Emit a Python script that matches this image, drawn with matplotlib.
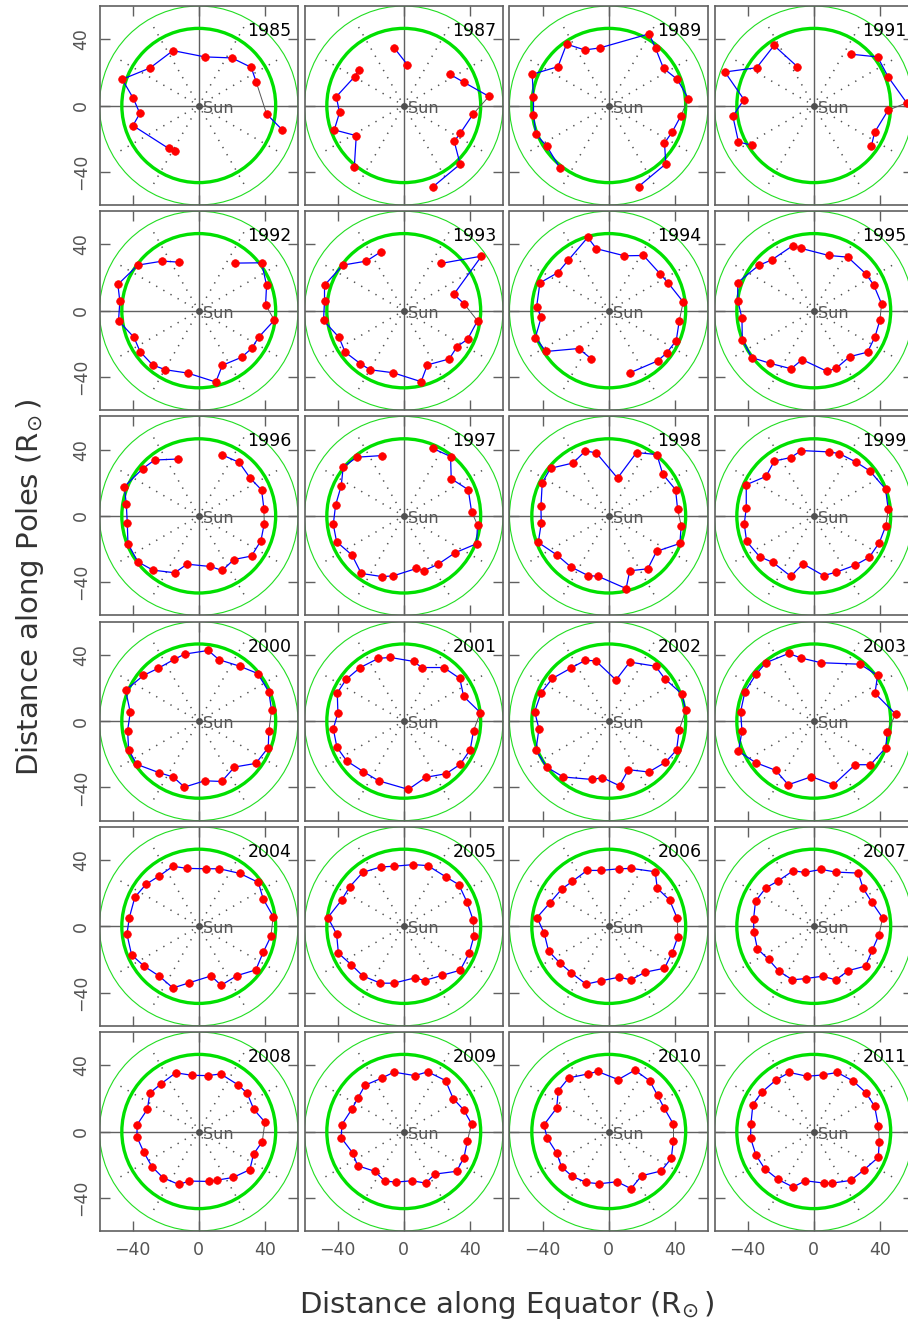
import numpy as np
import matplotlib
matplotlib.use('Agg')
import matplotlib.pyplot as plt
from matplotlib.patches import Circle

G = None  # gap in the sequence of position angles

YEARS = [1985, 1987, 1989, 1991,
         1992, 1993, 1994, 1995,
         1996, 1997, 1998, 1999,
         2000, 2001, 2002, 2003,
         2004, 2005, 2006, 2007,
         2008, 2009, 2010, 2011]

pts_1985 = [(41, -5.1), (50.3, -14.5), G, (-14.1, -27.7), (-18.2, -25.9), (-39.8, -12.1), (-35.6, -4.8),
            (-39.6, 4.4), (-46.3, 15.8), (-29.5, 22.6), (-15.6, 33.1), (3.8, 29.3), (20, 28.7), (31.7, 23), (34.7, 14.3)]
pts_1987 = [(42, -5.1), (34.1, -16.8), (30.5, -21.6), (34.1, -35.4), (17.8, -48.9), G, (-29.9, -37.2), (-28.7, -18.2),
            (-42, -14.7), (-38.8, -4.2), (-40.8, 5.3), (-29.7, 17.4), (-27.1, 21.6), G, (-5.9, 34.9), (2.2, 24.6), G,
            (27.9, 18.8), (36.2, 14.1), (51.5, 5.5)]
pts_1989 = [(43.6, -6.3), (38.2, -16.2), (33.7, -22.6), (34.5, -35.2), (18, -48.9), G, (-29.7, -37.4), (-37.4, -24.6),
            (-44, -17.4), (-45.5, -5.7), (-45.5, 5.3), (-46.3, 18.8), (-30.7, 23.4), (-25.5, 37), (-14.5, 33.5),
            (-5.5, 34.7), (24.4, 43.2), (28.3, 34.5), (33.1, 22.4), (41.4, 15.8), (48.1, 4.2)]
pts_1991 = [(45, -2.8), (36.8, -16.2), (34.9, -24.2), G, (-37.2, -24), (-45.5, -22), (-48.9, -6.5), (-42.2, 3.6),
            (-53.7, 20.2), (-34.5, 22.8), (-24, 36.2), (-9.9, 23.4), G, (22.8, 30.9), (38.6, 29.3), (45, 17.2), (56.2, 1.6)]
pts_1992 = [(45.7, -5.7), (36.2, -16), (32.1, -22.6), (25.9, -28.1), (14.3, -32.9), (10.3, -43), (-6.7, -37.6),
            (-20.2, -35.6), (-27.9, -32.7), (-35.4, -24.8), (-39.2, -16), (-48.5, -6.1), (-47.7, 5.7), (-48.9, 15.8),
            (-36.8, 27.5), (-22, 29.9), (-12.1, 29.3), G, (22.2, 28.7), (38, 28.9), (41, 15.4), (40.4, 3.6)]
pts_1993 = [(44.6, -6.1), (38.6, -17.2), (32.3, -21.6), (27.5, -29.1), (14.3, -32.7), (10.5, -42.8), (-6.5, -37.4),
            (-20.4, -35.6), (-26.3, -31.9), (-35.4, -25), (-39.2, -16), (-48.5, -5.9), (-47.9, 5.7), (-47.9, 15.4),
            (-36.8, 27.5), (-22.6, 29.9), (-14, 35.4), G, (22.4, 28.5), (47, 32.9), (30.3, 9.9), (36.6, 4)]
pts_1994 = [(42.6, -6.3), (40.8, -18), (35, -25.5), (29.5, -30.3), (12.9, -37.4), G, (-10.7, -28.9), (-18.2, -22.8),
            (-38, -24.6), (-44.4, -16.2), (-40.8, -4), (-43.6, 2.4), (-41.6, 16.8), (-30.7, 23), (-24.6, 30.3),
            (-12.7, 44.2), (-7.5, 37.4), (9.5, 33.1), (21, 33.3), (30.9, 22.4), (36, 16.6), (45, 5.3)]
pts_1995 = [(40, -5.7), (37, -15.8), (32.5, -25), (21.8, -27.7), (13.5, -34.7), (8.1, -36.6), (-7, -29.5),
            (-13.7, -35), (-26.5, -31.7), (-37.4, -28.3), (-43.2, -17.4), (-43.4, -4.4), (-45.9, 5.9), (-46, 17),
            (-33.3, 27.3), (-25.3, 30.7), (-12.7, 39.2), (-7.7, 37.6), (9.1, 33.3), (20.6, 32.3), (31.3, 22.4),
            (36.2, 15.6), (41, 4.2)]
pts_1996 = [(39.6, -4.6), (37.6, -14.9), (31.9, -24.2), (21.2, -26.3), (14.3, -32.9), (6.9, -30.5), (-7.1, -29.1),
            (-14.5, -34.3), (-27.7, -32.7), (-36.8, -27.7), (-42.8, -16.8), (-43.2, -4.4), (-43.8, 7.1), (-45, 17.6),
            (-33.9, 28.5), (-26.7, 33.7), (-12.5, 34.3), G, (14.1, 36.8), (24.4, 32.3), (31.1, 22.8), (38, 15.6),
            (39.4, 4.2)]
pts_1997 = [(44.6, -5.5), (44, -16.8), (31.1, -22.2), (20.8, -29.1), (12.1, -33.1), (7.7, -31.7), (-6.5, -36.2),
            (-13.1, -36.6), (-25.7, -34.7), (-31.3, -23.6), (-40.6, -15.6), (-42.6, -5.1), (-41.2, 6.5), (-37.8, 18.2),
            (-36.6, 29.5), (-28.3, 35.4), (-13.1, 36.4), G, (17.4, 40.8), (28.3, 35.8), (28.7, 22.4), (39, 15.8),
            (41, 2.6)]
pts_1998 = [(43.8, -5.9), (43, -16.6), (28.9, -21.4), (23.6, -31.9), (12.7, -33.1), (10.5, -43.8), (-6.5, -36.4),
            (-12.5, -36), (-23, -30.7), (-31.3, -23.6), (-42.6, -16), (-40.8, -4.4), (-41, 5.7), (-40.2, 20),
            (-35.2, 28.7), (-21.6, 31.9), (-14.1, 39.2), (-7.5, 38), (5.3, 22.8), (16.8, 38.2), (29.1, 37),
            (32.7, 25.1), (40.4, 15.8), (41.6, 4.2)]
pts_1999 = [(43.6, -5.9), (39.6, -16.2), (33.5, -25), (25.1, -29.7), (13.7, -33.9), (5.9, -36), (-6.5, -28.9),
            (-13.9, -36.4), (-24.6, -28.1), (-32.7, -24.6), (-40.6, -15.4), (-42, -4.8), (-40.8, 4.8), (-40.8, 18.8),
            (-28.9, 23.8), (-23.8, 33.1), (-13.9, 35.2), (-7.5, 39.4), (9.1, 38.6), (15.4, 37.6), (25.5, 32.5),
            (33.9, 27.1), (43.4, 16.2), (45, 4.2)]
pts_2000 = [(42.4, -5.7), (42, -16), (34.5, -25.5), (21.6, -27.7), (13.9, -36.4), (3.6, -36), (-8.7, -39.8),
            (-15.4, -33.7), (-24, -31.1), (-37.4, -26.1), (-42.4, -17.4), (-43, -5.7), (-41.4, 5.3), (-44.2, 18.6),
            (-33.5, 27.5), (-24.4, 31.9), (-14.9, 37.2), (-8.5, 40.4), (5.7, 42.6), (12.3, 37), (24.8, 33.1),
            (35.6, 28.7), (42.4, 17.6), (44, 6.5)]
pts_2001 = [(42.2, -5.7), (40.2, -17.2), (34.1, -26.1), (25.7, -31.7), (13.3, -33.9), (2.8, -41.2), (-15.2, -36),
            (-24.4, -30.5), (-34.5, -24), (-40.4, -15.8), (-42.6, -4.6), (-39.8, 4.8), (-40.2, 17), (-34.7, 25.3),
            (-26.3, 32.3), (-15.4, 37.8), (-8.3, 38.4), (5.9, 36), (10.9, 32.3), (24.2, 32.3), (33.9, 25.7),
            (36.2, 14.9), (46.3, 5.1)]
pts_2002 = [(42.6, -5.3), (41, -17.4), (34.3, -24.8), (24.2, -30.7), (11.9, -29.3), (6.5, -39), (-3.8, -34.1),
            (-9.9, -35.2), (-27.5, -33.7), (-37.6, -27.7), (-44, -17.4), (-42.2, -4.6), (-44.8, 5.7), (-40.8, 17.2),
            (-34.1, 25.7), (-23, 31.9), (-14.3, 36.6), (-7.9, 36.4), (4.4, 24.8), (12.7, 35.6), (28.3, 33.1),
            (33.9, 25.5), (44.2, 16.4), (46.5, 6.5)]
pts_2003 = [(44.4, -6.3), (43.6, -16), (34.3, -26.3), (25, -26.3), (11.9, -38.4), (-1.4, -33.5), (-15.4, -38.4),
            (-23, -29.7), (-35.2, -25), (-45.5, -18.2), (-43.4, -6.1), (-44.2, 5.7), (-41.6, 17.8), (-34.7, 28.5),
            (-28.9, 35.2), (-15.2, 40.8), (-7.5, 38), (4.4, 35.2), (28.1, 34.3), (38.6, 27.5), (37, 16.8),
            (49.5, 4.2)]
pts_2004 = [(43.6, -6.1), (39, -15.6), (34.5, -26.3), (23.2, -29.7), (13.5, -35.6), (7.5, -29.9), (-5.9, -34.1),
            (-15.6, -37.2), (-23.8, -30.1), (-33.1, -24), (-40.6, -17.2), (-43.4, -4.8), (-42, 5.1), (-38.6, 17.6),
            (-31.9, 25.3), (-24, 30.3), (-15.6, 36.2), (-6.9, 34.9), (4.2, 34.7), (12.5, 34.7), (24.8, 31.9),
            (36, 26.5), (39, 16.4), (45, 5.9)]
pts_2005 = [(42.4, -6.1), (39.6, -16.2), (34.1, -26.5), (23.4, -29.5), (12.7, -32.7), (6.7, -31.1), (-6.1, -34.3),
            (-14.1, -34.3), (-24.8, -29.9), (-31.7, -23.2), (-39.5, -16.2), (-40.6, -4.6), (-45.9, 5.3), (-37.6, 15.8),
            (-32.7, 23.8), (-24.8, 32.5), (-13.9, 35.8), (-6.1, 36.2), (5.7, 37.2), (14.5, 36.6), (25.3, 29.9),
            (33.3, 25.1), (38.2, 14.7), (42, 3.6)]
pts_2006 = [(41.8, -6.3), (38.4, -15.8), (33.7, -25.3), (21.8, -27.7), (13.5, -32.3), (6.1, -30.7), (-4.8, -32.9),
            (-13.7, -34.9), (-22.6, -28.1), (-29.7, -22), (-36.4, -14.9), (-39, -4.2), (-43.4, 5.3), (-35.6, 14.1),
            (-28.5, 22.4), (-22, 27.1), (-13.1, 33.7), (-4.4, 33.7), (6.3, 34.7), (13.7, 34.9), (28.1, 32.9),
            (29.3, 23), (36.8, 15.8), (41.4, 4.8)]
pts_2007 = [(39.4, -5.3), (35.4, -14.3), (31.3, -24), (21, -26.7), (13.3, -32.3), (5.3, -30.1), (-4.8, -31.5),
            (-12.9, -32.3), (-21, -27.1), (-27.3, -20), (-34.1, -13.5), (-36.2, -3.2), (-36.4, 4.2), (-35.2, 15.2),
            (-28.9, 23.2), (-21.6, 27.3), (-12.5, 33.5), (-5.5, 32.5), (4.6, 34.3), (13.3, 32.7), (26.9, 32.1),
            (29.9, 22.8), (35, 14.7), (41.6, 5.1)]
pts_2008 = [(38.4, -6.1), (33.1, -13.7), (30.9, -23), (20.8, -27.7), (11.3, -29.3), (5.9, -30.1), (-5.7, -29.9),
            (-12.1, -31.9), (-21.6, -27.9), (-28.3, -21.2), (-33.3, -12.3), (-37.4, -3.2), (-37.2, 4.2), (-31.1, 13.3),
            (-29.5, 23.2), (-22.6, 28.9), (-13.9, 35.4), (-4.2, 33.9), (5.3, 33.7), (13.3, 34.7), (23.8, 28.1),
            (29.3, 23), (33.3, 13.3), (40, 5.7)]
pts_2009 = [(38.4, -5.9), (36.4, -15.8), (31.9, -24), (18.8, -25.7), (13.3, -31.1), (4.8, -29.7), (-4.4, -30.5),
            (-11.5, -29.9), (-17.6, -24), (-27.9, -20.6), (-30.9, -12.9), (-37.8, -3.8), (-37.4, 4.2), (-31.5, 13.3),
            (-27.7, 20.2), (-23.4, 27.9), (-13.1, 32.3), (-5.9, 35.8), (6.7, 33.7), (14.5, 36), (25.3, 30.7),
            (29.9, 19.8), (36.2, 13.1), (41, 4.6)]
pts_2010 = [(39, -5.9), (37.8, -16.2), (31.7, -23.8), (19.8, -26.7), (13.5, -34.5), (5.1, -30.3), (-5.7, -31.5),
            (-13.5, -30.7), (-22, -27.1), (-28.5, -21.4), (-31.5, -12.9), (-37.2, -4), (-39.2, 4), (-31.5, 14.1),
            (-30.5, 24.6), (-24.2, 32.3), (-12.7, 34.7), (-6.7, 36.2), (5.7, 31.3), (15.8, 37), (24.8, 30.5),
            (29.5, 21.8), (33.5, 14.1), (39, 4.6)]
pts_2011 = [(39.6, -6.1), (39, -15.6), (30.5, -23), (22.4, -29.5), (11.3, -31.1), (6.1, -31.1), (-5.1, -29.7),
            (-12.5, -33.5), (-21.6, -28.9), (-29.7, -22.4), (-34.9, -14.3), (-38.2, -4), (-38, 4.4), (-36.8, 16.2),
            (-31.5, 23.6), (-22.8, 31.1), (-14.7, 35.6), (-4, 33.3), (5.3, 34.1), (14.3, 35.6), (24, 30.3),
            (31.5, 23.4), (36.8, 15.2), (39, 3.6)]

POINTS = {1985: pts_1985, 1987: pts_1987, 1989: pts_1989, 1991: pts_1991,
          1992: pts_1992, 1993: pts_1993, 1994: pts_1994, 1995: pts_1995,
          1996: pts_1996, 1997: pts_1997, 1998: pts_1998, 1999: pts_1999,
          2000: pts_2000, 2001: pts_2001, 2002: pts_2002, 2003: pts_2003,
          2004: pts_2004, 2005: pts_2005, 2006: pts_2006, 2007: pts_2007,
          2008: pts_2008, 2009: pts_2009, 2010: pts_2010, 2011: pts_2011}

TICKS = [-40, 0, 40]
TICK_LABELS = ['\u221240', '0', '40']
R_THICK = 46.5
R_THIN = 60
GUIDE_ANGLES = [30, 60, 120, 150, 210, 240, 300, 330]

AXC = '#606060'
W, H = 908, 1324
fig = plt.figure(figsize=(W / 100, H / 100), dpi=100)

PW, PH = 198.5, 199.0
for i, year in enumerate(YEARS):
    r, c = divmod(i, 4)
    left = 99.5 + 205.0 * c
    top = 6.0 + 205.2 * r
    ax = fig.add_axes([left / W, 1 - (top + PH) / H, PW / W, PH / H])
    ax.set_xlim(-60, 60)
    ax.set_ylim(-60, 60)
    for s in ax.spines.values():
        s.set_color(AXC)
        s.set_linewidth(1.2)
    ax.set_xticks(TICKS)
    ax.set_yticks(TICKS)
    ax.tick_params(direction='in', length=7.5, width=1.0, color=AXC,
                   top=True, right=True, labelcolor='#555555', labelsize=12.5)
    ax.tick_params(axis='x', pad=7)
    ax.tick_params(axis='y', pad=7)
    if c == 0:
        ax.set_yticklabels(TICK_LABELS, rotation=90, va='center')
    else:
        ax.set_yticklabels([])
    if r == 5:
        ax.set_xticklabels(TICK_LABELS)
    else:
        ax.set_xticklabels([])

    # crosshair through the Sun
    ax.axhline(0, color=AXC, lw=1.0, zorder=1)
    ax.axvline(0, color=AXC, lw=1.0, zorder=1)
    # dotted radial guides
    for a in GUIDE_ANGLES:
        t = np.deg2rad(a)
        ax.plot([4 * np.cos(t), 58 * np.cos(t)], [4 * np.sin(t), 58 * np.sin(t)],
                color='#505050', lw=1.1, ls=(0, (0.9, 4.5)), zorder=1)
    # reference circles
    ax.add_patch(Circle((0, 0), R_THIN, fill=False, ec='#22dd22', lw=0.8, zorder=2))
    ax.add_patch(Circle((0, 0), R_THICK, fill=False, ec='#00e000', lw=2.4, zorder=2))
    # Sun
    ax.plot([0], [0], 'o', color='#505050', ms=4, zorder=3)
    ax.text(2.3, -4.3, 'Sun', color='#555555', fontsize=11.5, va='baseline', ha='left', zorder=3)

    pts = POINTS[year]
    xs = np.array([p[0] if p is not None else np.nan for p in pts], dtype=float)
    ys = np.array([p[1] if p is not None else np.nan for p in pts], dtype=float)
    ax.plot(xs, ys, color='#0000ff', lw=0.9, zorder=4)
    if pts[0] is not None and pts[-1] is not None:
        ax.plot([xs[-1], xs[0]], [ys[-1], ys[0]], color='#555555', lw=0.7, zorder=4)
    ax.plot(xs, ys, 'o', color='#ff0000', ms=5.5, mec='#ff0000', mew=0.5, ls='none', zorder=5)

    ax.text(0.967, 0.849, str(year), transform=ax.transAxes, ha='right', va='baseline',
            fontsize=12.5, color='black', zorder=6)

fig.text(30 / W, 1 - 587 / H, r'Distance along Poles (R$_{\!\odot}$)', rotation=90,
         ha='center', va='center', fontsize=21, color='#333333')
fig.text(507 / W, 1 - 1305 / H, r'Distance along Equator (R$_{\!\odot}$)',
         ha='center', va='center', fontsize=21, color='#333333')

fig.savefig('out.png', dpi=100)
